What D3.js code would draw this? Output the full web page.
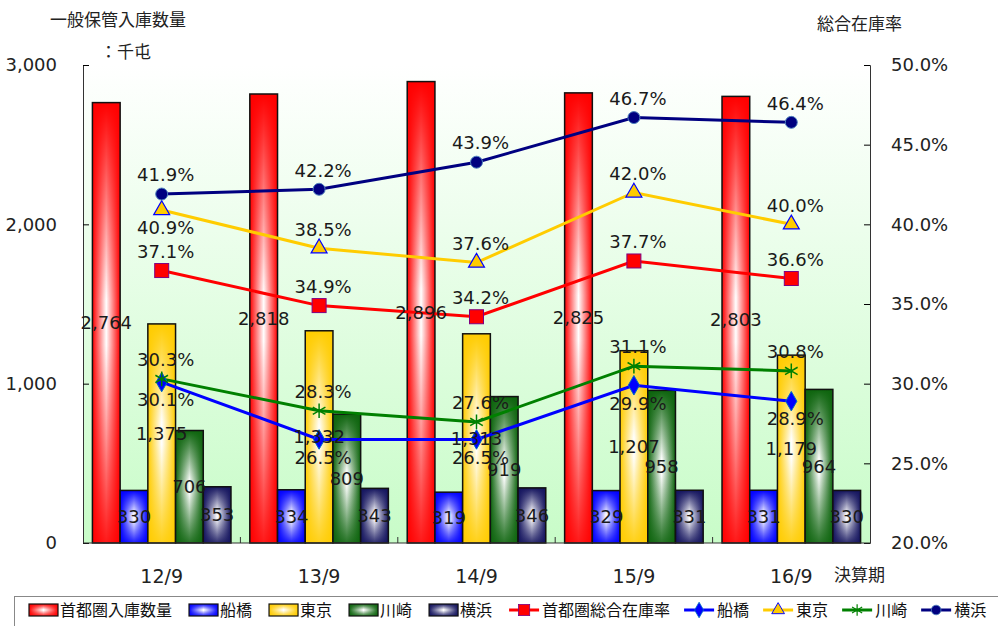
<!DOCTYPE html>
<html>
<head>
<meta charset="utf-8">
<script src="https://cdn.jsdelivr.net/npm/d3@7"></script>
<style>
  body { margin: 0; background: #fff; }
  svg { font-family: "DejaVu Sans", "Noto Sans CJK JP", sans-serif; }
</style>
</head>
<body>
<svg width="998" height="626"></svg>
<script>
// data
var categories = ["12/9", "13/9", "14/9", "15/9", "16/9"];
var barNames = ["首都圏入庫数量", "船橋", "東京", "川崎", "横浜"];
var barShutoken = [2764, 2818, 2896, 2825, 2803];
var barFunabashi = [330, 334, 319, 329, 331];
var barTokyo = [1375, 1332, 1313, 1207, 1179];
var barKawasaki = [706, 809, 919, 958, 964];
var barYokohama = [353, 343, 346, 331, 330];

var lineNames = ["首都圏総合在庫率", "船橋", "東京", "川崎", "横浜"];
var rateShutoken = [37.1, 34.9, 34.2, 37.7, 36.6];
var rateFunabashi = [30.1, 26.5, 26.5, 29.9, 28.9];
var rateTokyo = [40.9, 38.5, 37.6, 42.0, 40.0];
var rateKawasaki = [30.3, 28.3, 27.6, 31.1, 30.8];
var rateYokohama = [41.9, 42.2, 43.9, 46.7, 46.4];

var leftTicks = [0, 1000, 2000, 3000];
var rightTicks = [20, 25, 30, 35, 40, 45, 50];

var barData = [barShutoken, barFunabashi, barTokyo, barKawasaki, barYokohama];
var rateData = [rateShutoken, rateFunabashi, rateTokyo, rateKawasaki, rateYokohama];

var barColors = ["#ff0000", "#0000ff", "#ffcc00", "#0d640d", "#14145e"];
var lineColors = ["#ff0000", "#0000ff", "#ffcc00", "#008000", "#000080"];

var svg = d3.select("svg");
var pL = 83, pR = 870, pT = 65, pB = 543;

var x0 = d3.scaleBand().domain(categories).range([pL, pR]).padding(0);
var x1 = d3.scaleBand().domain(d3.range(5)).range([0, x0.bandwidth()]).paddingInner(0).paddingOuter(0.34);
var y = d3.scaleLinear().domain([0, 3000]).range([pB, pT]);
var y2 = d3.scaleLinear().domain([20, 50]).range([pB, pT]);

var defs = svg.append("defs");

// plot background gradient
var bg = defs.append("linearGradient").attr("id", "bg").attr("x1", 0).attr("y1", 0).attr("x2", 0).attr("y2", 1);
bg.append("stop").attr("offset", "0%").attr("stop-color", "#ffffff");
bg.append("stop").attr("offset", "100%").attr("stop-color", "#c8fcc8");

// bar gradients (edge colour -> white centre)
barColors.forEach(function(c, i) {
  var h = defs.append("linearGradient").attr("id", "gh" + i);
  h.append("stop").attr("offset", "0%").attr("stop-color", c);
  h.append("stop").attr("offset", "50%").attr("stop-color", "#ffffff");
  h.append("stop").attr("offset", "100%").attr("stop-color", c);
  var v = defs.append("linearGradient").attr("id", "gv" + i).attr("x1", 0).attr("y1", 0).attr("x2", 0).attr("y2", 1);
  v.append("stop").attr("offset", "0%").attr("stop-color", c).attr("stop-opacity", 1);
  v.append("stop").attr("offset", "45%").attr("stop-color", c).attr("stop-opacity", 0);
  v.append("stop").attr("offset", "55%").attr("stop-color", c).attr("stop-opacity", 0);
  v.append("stop").attr("offset", "100%").attr("stop-color", c).attr("stop-opacity", 0.9);
});

svg.append("rect")
  .attr("x", pL).attr("y", pT)
  .attr("width", pR - pL).attr("height", pB - pT)
  .attr("fill", "url(#bg)");

// titles
svg.append("text").attr("x", 50).attr("y", 26).style("font-size", "17px").attr("fill", "#222").text("一般保管入庫数量");
svg.append("text").attr("x", 100).attr("y", 58).style("font-size", "17px").attr("fill", "#222").text("：千屯");
svg.append("text").attr("x", 817).attr("y", 30).style("font-size", "17px").attr("fill", "#222").text("総合在庫率");
svg.append("text").attr("x", 834).attr("y", 581).style("font-size", "17px").attr("fill", "#222").text("決算期");

// bars
var groups = svg.selectAll(".grp")
  .data(categories)
  .enter().append("g")
  .attr("class", "grp")
  .attr("transform", function(d) { return "translate(" + x0(d) + ",0)"; });

barData.forEach(function(series, si) {
  groups.append("rect")
    .attr("x", x1(si))
    .attr("y", function(d, ci) { return y(series[ci]); })
    .attr("width", x1.bandwidth())
    .attr("height", function(d, ci) { return pB - y(series[ci]); })
    .attr("fill", "url(#gh" + si + ")");
  groups.append("rect")
    .attr("x", x1(si))
    .attr("y", function(d, ci) { return y(series[ci]); })
    .attr("width", x1.bandwidth())
    .attr("height", function(d, ci) { return pB - y(series[ci]); })
    .attr("fill", "url(#gv" + si + ")")
    .attr("stroke", "#111")
    .attr("stroke-width", 1.5);
});

// axes
svg.append("g")
  .attr("transform", "translate(" + pL + ",0)")
  .call(d3.axisRight(y).tickValues(leftTicks).tickSize(6).tickFormat(""))
  .call(function(g) { g.select(".domain").attr("stroke", "#333"); });
svg.selectAll(".ltick").data(leftTicks).enter().append("text")
  .attr("x", 57).attr("y", function(d) { return y(d); })
  .attr("dy", "0.35em").attr("text-anchor", "end")
  .style("font-size", "18px").attr("fill", "#222")
  .text(d3.format(","));

svg.append("g")
  .attr("transform", "translate(" + pR + ",0)")
  .call(d3.axisLeft(y2).tickValues(rightTicks).tickSize(6).tickFormat(""))
  .call(function(g) { g.select(".domain").attr("stroke", "#333"); });
svg.selectAll(".rtick").data(rightTicks).enter().append("text")
  .attr("x", 891).attr("y", function(d) { return y2(d); })
  .attr("dy", "0.35em")
  .style("font-size", "18px").attr("fill", "#222")
  .text(function(d) { return d.toFixed(1) + "%"; });

svg.append("line").attr("x1", pL).attr("x2", pR).attr("y1", pB).attr("y2", pB).attr("stroke", "#333");
svg.selectAll(".xt").data(categories.slice(1)).enter().append("line")
  .attr("x1", function(d) { return x0(d); }).attr("x2", function(d) { return x0(d); })
  .attr("y1", pB).attr("y2", pB - 6).attr("stroke", "#333");
svg.selectAll(".xl").data(categories).enter().append("text")
  .attr("x", function(d) { return x0(d) + x0.bandwidth() / 2; })
  .attr("y", 583).attr("text-anchor", "middle")
  .style("font-size", "19px").attr("fill", "#222")
  .text(function(d) { return d; });

// lines
var cx = function(ci) { return x0(categories[ci]) + x0.bandwidth() / 2; };
var line = d3.line().x(function(d, ci) { return cx(ci); }).y(function(d) { return y2(d); });

rateData.forEach(function(series, si) {
  svg.append("path").datum(series)
    .attr("d", line).attr("fill", "none")
    .attr("stroke", lineColors[si]).attr("stroke-width", 3);
});

function drawMarker(g, si) {
  if (si === 0) {
    g.append("rect").attr("x", -7).attr("y", -7).attr("width", 14).attr("height", 14)
      .attr("fill", "#ff0000").attr("stroke", "#800080").attr("stroke-width", 1);
  } else if (si === 1) {
    g.append("path").attr("d", d3.symbol(d3.symbolDiamond, 110)())
      .attr("fill", "#0000ff").attr("stroke", "#0070c0").attr("stroke-width", 1);
  } else if (si === 2) {
    g.append("path").attr("d", d3.symbol(d3.symbolTriangle, 110)())
      .attr("fill", "#ffcc00").attr("stroke", "#0000ff").attr("stroke-width", 1.2);
  } else if (si === 3) {
    g.append("path").attr("d", d3.symbol(d3.symbolAsterisk, 150)())
      .attr("fill", "none").attr("stroke", "#008000").attr("stroke-width", 1.5);
  } else {
    g.append("circle").attr("r", 6).attr("fill", "#000080").attr("stroke", "#4f81bd").attr("stroke-width", 1);
  }
}

rateData.forEach(function(series, si) {
  series.forEach(function(v, ci) {
    var g = svg.append("g").attr("transform", "translate(" + cx(ci) + "," + y2(v) + ")");
    drawMarker(g, si);
  });
});

// labels
barData.forEach(function(series, si) {
  series.forEach(function(v, ci) {
    var yy = y(v), xx = x0(categories[ci]) + x1(si) + x1.bandwidth() / 2;
    svg.append("text")
      .attr("x", xx).attr("y", (yy + pB) / 2)
      .attr("dy", "0.35em").attr("text-anchor", "middle")
      .style("font-size", "18px").attr("fill", "#1a1a1a")
      .text(d3.format(",")(v));
  });
});

rateData.forEach(function(series, si) {
  series.forEach(function(v, ci) {
    var below = si === 1 || (si === 2 && ci === 0);
    svg.append("text")
      .attr("x", cx(ci) + 4).attr("y", y2(v) + (below ? 18 : -19))
      .attr("dy", "0.35em").attr("text-anchor", "middle")
      .style("font-size", "18px").attr("fill", "#1a1a1a")
      .text(v.toFixed(1) + "%");
  });
});

// legend
svg.append("rect").attr("x", 14.5).attr("y", 596.5).attr("width", 990).attr("height", 40)
  .attr("fill", "#fff").attr("stroke", "#888");

var lx = 29, ly = 610;
barNames.forEach(function(name, si) {
  svg.append("rect").attr("x", lx).attr("y", ly - 6).attr("width", 29).attr("height", 12)
    .attr("fill", "url(#gh" + si + ")");
  svg.append("rect").attr("x", lx).attr("y", ly - 6).attr("width", 29).attr("height", 12)
    .attr("fill", "url(#gv" + si + ")").attr("stroke", "#111").attr("stroke-width", 1.2);
  var t = svg.append("text").attr("x", lx + 31).attr("y", ly).attr("dy", "0.35em")
    .style("font-size", "16px").attr("fill", "#111").text(name);
  lx += 31 + t.node().getComputedTextLength() + 17;
});
lineNames.forEach(function(name, si) {
  svg.append("line").attr("x1", lx).attr("x2", lx + 30).attr("y1", ly).attr("y2", ly)
    .attr("stroke", lineColors[si]).attr("stroke-width", 3);
  var g = svg.append("g").attr("transform", "translate(" + (lx + 15) + "," + ly + ") scale(0.8)");
  drawMarker(g, si);
  var t = svg.append("text").attr("x", lx + 33).attr("y", ly).attr("dy", "0.35em")
    .style("font-size", "16px").attr("fill", "#111").text(name);
  lx += 33 + t.node().getComputedTextLength() + 14;
});
</script>
</body>
</html>
